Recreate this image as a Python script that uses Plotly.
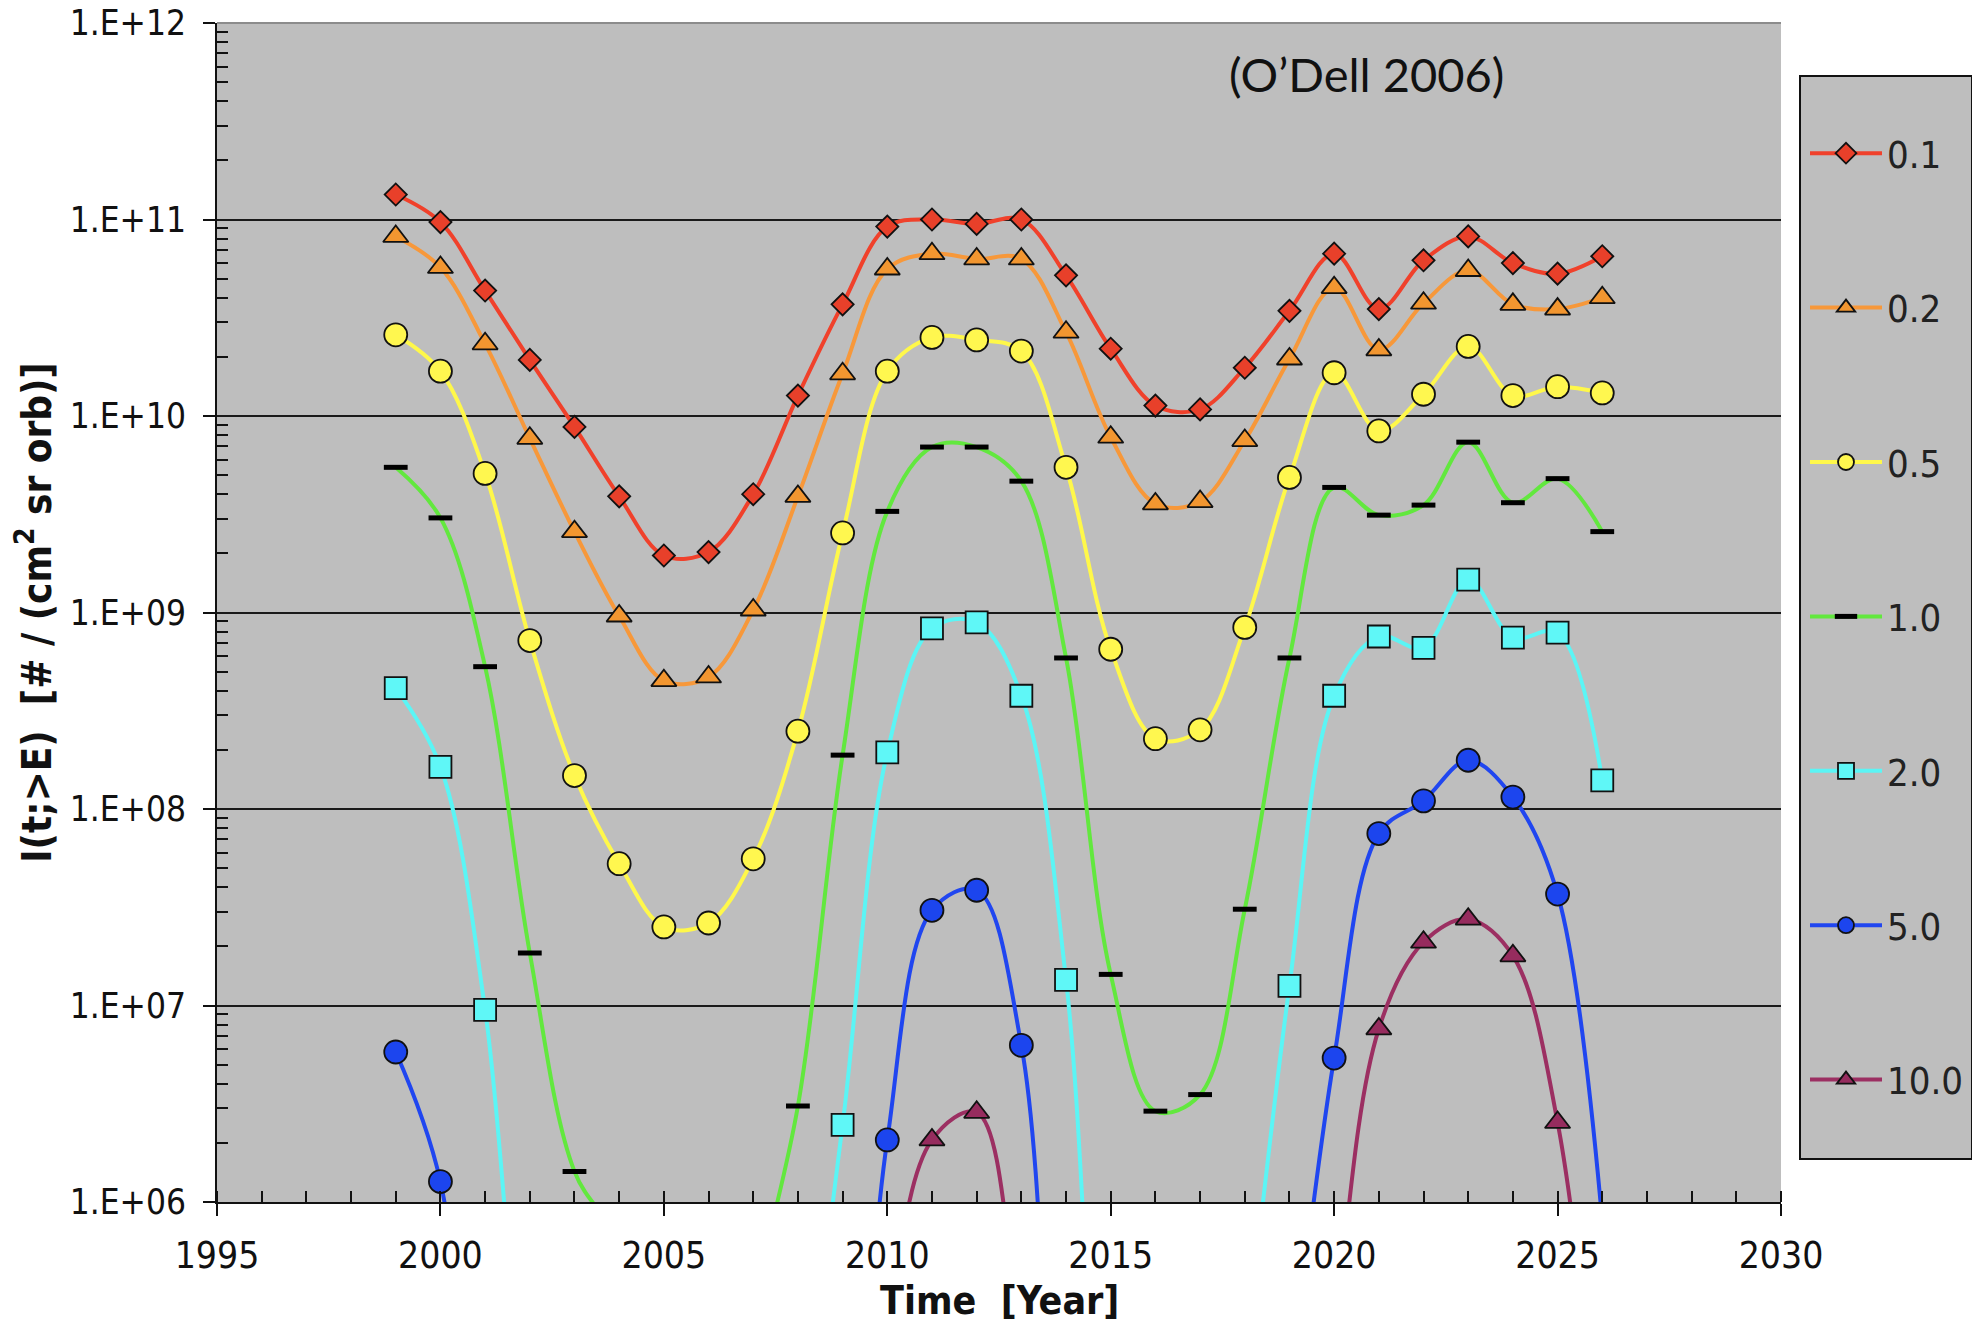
import plotly.graph_objects as go

# ---------------- data ----------------
years = list(range(1999, 2027))

series_names = ["0.1", "0.2", "0.5", "1.0", "2.0", "5.0", "10.0"]

flux_0_1 = [1.34e11, 9.7e10, 4.35e10, 1.93e10, 8.8e9, 3.9e9, 1.95e9, 2.03e9, 4.0e9, 1.27e10,
            3.7e10, 9.2e10, 1.0e11, 9.5e10, 1.0e11, 5.2e10, 2.2e10, 1.13e10, 1.08e10, 1.76e10,
            3.43e10, 6.7e10, 3.5e10, 6.2e10, 8.2e10, 6.0e10, 5.3e10, 6.5e10]
flux_0_2 = [8.2e10, 5.7e10, 2.33e10, 7.7e9, 2.58e9, 9.6e8, 4.5e8, 4.7e8, 1.03e9, 3.9e9,
            1.64e10, 5.6e10, 6.7e10, 6.3e10, 6.3e10, 2.67e10, 7.8e9, 3.57e9, 3.67e9, 7.5e9,
            1.95e10, 4.5e10, 2.17e10, 3.75e10, 5.5e10, 3.7e10, 3.5e10, 4.0e10]
flux_0_5 = [2.59e10, 1.69e10, 5.1e9, 7.2e8, 1.48e8, 5.27e7, 2.51e7, 2.63e7, 5.58e7, 2.49e8,
            2.54e9, 1.69e10, 2.51e10, 2.44e10, 2.14e10, 5.48e9, 6.5e8, 2.28e8, 2.53e8, 8.4e8,
            4.87e9, 1.66e10, 8.4e9, 1.29e10, 2.26e10, 1.27e10, 1.41e10, 1.31e10]
flux_1_0 = [5.48e9, 3.03e9, 5.3e8, 1.85e7, 1.43e6, 6.0e5, 2.0e4, 2.0e4, 3.0e5, 3.08e6,
            1.88e8, 3.27e9, 6.95e9, 6.95e9, 4.66e9, 5.87e8, 1.44e7, 2.9e6, 3.52e6, 3.09e7,
            5.87e8, 4.33e9, 3.13e9, 3.52e9, 7.36e9, 3.62e9, 4.8e9, 2.58e9]
flux_2_0 = [4.12e8, 1.64e8, 9.5e6, 5.0e4, 5.0e3, 1.0e3, 1.0e3, 1.0e3, 3.0e3, 5.0e4,
            2.47e6, 1.94e8, 8.3e8, 8.9e8, 3.77e8, 1.35e7, 1.0e4, 1.0e3, 1.0e3, 1.5e5,
            1.26e7, 3.77e8, 7.55e8, 6.6e8, 1.47e9, 7.45e8, 7.9e8, 1.4e8]
flux_5_0 = [5.8e6, 1.27e6, 1.0e4, 1.0e3, 1.0e3, 1.0e3, 1.0e3, 1.0e3, 1.0e3, 1.0e3,
            1.0e4, 2.07e6, 3.05e7, 3.86e7, 6.27e6, 1.0e4, 1.0e3, 1.0e3, 1.0e3, 1.0e3,
            1.0e5, 5.4e6, 7.5e7, 1.1e8, 1.77e8, 1.15e8, 3.69e7, 8.0e5]
flux_10_0 = [1.0e3, 1.0e3, 1.0e3, 1.0e3, 1.0e3, 1.0e3, 1.0e3, 1.0e3, 1.0e3, 1.0e3,
             1.0e3, 2.0e5, 2.07e6, 2.86e6, 2.0e5, 1.0e4, 1.0e3, 1.0e3, 1.0e3, 1.0e3,
             1.0e3, 2.0e5, 7.6e6, 2.1e7, 2.75e7, 1.79e7, 2.54e6, 3.0e4]

all_series = [flux_0_1, flux_0_2, flux_0_5, flux_1_0, flux_2_0, flux_5_0, flux_10_0]

y_tickvals = [1e6, 1e7, 1e8, 1e9, 1e10, 1e11, 1e12]
y_ticktext = ["1.E+06", "1.E+07", "1.E+08", "1.E+09", "1.E+10", "1.E+11", "1.E+12"]
x_tickvals = [1995, 2000, 2005, 2010, 2015, 2020, 2025, 2030]
x_ticktext = ["1995", "2000", "2005", "2010", "2015", "2020", "2025", "2030"]

# ---------------- styles ----------------
line_colors = ["#F0412B", "#F7983A", "#FFF84A", "#62E83E", "#5BF5F5", "#2046F0", "#9C2F62"]
marker_fill = ["#E8402A", "#F29630", "#FFF74F", "#000000", "#5FF7F7", "#1C45EE", "#962C5E"]
symbols = ["diamond", "triangle-up", "circle", "line-ew", "square", "circle", "triangle-up"]
msizes = [17, 22, 23, 17, 22, 23, 22]

FONT = "DejaVu Sans Condensed, DejaVu Sans, Verdana, sans-serif"

fig = go.Figure()
for i, (name, ys) in enumerate(zip(series_names, all_series)):
    if symbols[i] == "line-ew":
        marker = dict(symbol="line-ew", size=msizes[i], color="#000000",
                      line=dict(color="#000000", width=5))
    else:
        marker = dict(symbol=symbols[i], size=msizes[i], color=marker_fill[i],
                      line=dict(color="#111111", width=1.8))
    fig.add_trace(go.Scatter(
        x=years, y=ys, name=name, mode="lines+markers",
        line=dict(color=line_colors[i], width=4, shape="spline", smoothing=1.0),
        marker=marker, legendgroup="g" + str(i), cliponaxis=True,
    ))

# page coordinates of the plot area (page has an 8px body margin)
OFF = 8
L, R, T, B = 217, 1781, 23, 1202
W, H = 1980 - OFF, 1323 - OFF

def px_x(px):
    return (px - L) / (R - L)

def px_y(py):
    return (B - py) / (B - T)

fig.update_layout(
    width=W, height=H, autosize=False,
    margin=dict(l=L - OFF, r=W - (R - OFF), t=T - OFF, b=H - (B - OFF), pad=0, autoexpand=False),
    paper_bgcolor="white", plot_bgcolor="#BEBEBE",
    font=dict(family=FONT, size=32, color="#111111"),
    showlegend=True,
    legend=dict(
        x=px_x(1805), y=px_y(122), xanchor="left", yanchor="top",
        bgcolor="rgba(0,0,0,0)", borderwidth=0,
        font=dict(family=FONT, size=38, color="#222222"),
        tracegroupgap=102, itemwidth=72, itemsizing="trace",
    ),
    xaxis=dict(
        range=[1995, 2030], tickmode="array", tickvals=x_tickvals, ticktext=x_ticktext,
        showgrid=False, zeroline=False, showline=True, linecolor="#111111", linewidth=2,
        ticks="outside", ticklen=12, tickwidth=2, tickcolor="#111111",
        tickfont=dict(family=FONT, size=37, color="#111111"),
        ticklabelstandoff=8, automargin=False, ticklabeloverflow="allow",
        minor=dict(dtick=1, ticks="inside", ticklen=11, tickwidth=1.5, tickcolor="#111111", showgrid=False),
        title=dict(text=""),
    ),
    yaxis=dict(
        type="log", range=[6, 12], tickmode="array", tickvals=y_tickvals, ticktext=y_ticktext,
        showgrid=True, gridcolor="#1a1a1a", gridwidth=2, zeroline=False,
        showline=True, linecolor="#111111", linewidth=2,
        ticks="outside", ticklen=12, tickwidth=2, tickcolor="#111111",
        tickfont=dict(family=FONT, size=35, color="#111111"),
        ticklabelstandoff=10, automargin=False, ticklabeloverflow="allow",
        minor=dict(tickmode="array",
                   tickvals=[m * 10 ** e for e in range(6, 12) for m in range(2, 10)],
                   ticks="inside", ticklen=11, tickwidth=1.5, tickcolor="#111111", showgrid=False),
        title=dict(text="<b>I(t;&gt;E)\u00a0 [# / (cm<sup>2</sup> sr orb)]</b>",
                   font=dict(family=FONT, size=40, color="#111111"), standoff=10),
    ),
    shapes=[
        dict(type="rect", xref="paper", yref="paper",
             x0=px_x(1800), x1=px_x(1972), y0=px_y(1159), y1=px_y(76),
             fillcolor="#BEBEBE", line=dict(color="#111111", width=2), layer="below"),
        dict(type="line", xref="paper", yref="paper", x0=0, x1=1, y0=1, y1=1,
             line=dict(color="#8c8c8c", width=2)),
    ],
    annotations=[
        dict(text="(O\u2019Dell 2006)", xref="paper", yref="paper",
             x=px_x(1366), y=px_y(74), xanchor="center", yanchor="middle",
             showarrow=False, font=dict(family="Lato, Open Sans, sans-serif", size=47, color="#111111")),
        dict(text="<b>Time\u00a0 [Year]</b>", xref="paper", yref="paper",
             x=0.5, y=px_y(1300), xanchor="center", yanchor="middle",
             showarrow=False, font=dict(family=FONT, size=39, color="#111111")),
    ],
)

fig.write_html("out.html")
